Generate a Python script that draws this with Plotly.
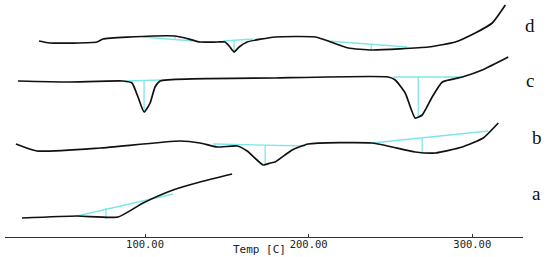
import plotly.graph_objects as go

# DSC curves (temperature in C, heat flow in arbitrary units, offset per sample)
temp_a = [24.8, 58.4, 83.5, 98.8, 117.1, 133.6, 153.2]
flow_a = [19, 21, 20, 34, 47, 55, 63]

temp_b = [21.1, 33.9, 72.5, 121.4, 133.6, 144.0, 156.3, 162.4, 172.2, 176.5, 179.5,
          189.9, 199.7, 238.8, 265.1, 277.4, 293.9, 306.7, 315.9]
flow_b = [93, 86, 89, 96, 94, 90, 91, 86, 72, 74, 75, 87, 93, 94, 85, 84, 90, 99, 114]

temp_c = [22.3, 52.3, 86.5, 92.0, 95.7, 99.4, 103.1, 106.1, 109.2, 179.5, 248.6,
          252.9, 259.0, 265.1, 269.4, 275.5, 281.7, 293.9, 306.1, 322.0]
flow_c = [156, 155, 156, 154, 140, 125, 134, 150, 156, 159, 160, 157, 144, 119,
          122, 140, 155, 160, 167, 180]

temp_d = [35.2, 41.9, 70.6, 74.3, 104.9, 118.3, 124.5, 133.6, 144.0, 148.9, 151.4,
          154.4, 157.5, 162.4, 179.5, 204.0, 211.9, 224.2, 238.8, 273.1, 289.6,
          301.8, 312.2, 320.2]
flow_d = [196, 194, 195, 198, 201, 201, 199, 195, 195, 195, 191, 185, 190, 195,
          200, 200, 196, 189, 187, 190, 195, 204, 214, 232]

# peak baselines: (t_start, y_start, t_end, y_end, t_peak, y_base_at_peak, y_peak)
baselines = [
    (58.4, 21, 117.1, 43, 76.1, 29, 18),
    (141.6, 93, 197.9, 91, 173.4, 92, 72),
    (238.8, 94, 309.8, 106, 269.4, 100, 84),
    (87.8, 156, 111.0, 157, 99.4, 156, 126),
    (251.7, 160, 293.9, 160, 267.0, 160, 119),
    (98.8, 200, 129.4, 196, 118.3, 198, 201),
    (147.7, 196, 166.1, 198, 154.4, 197, 185),
    (211.9, 196, 260.2, 190, 238.2, 193, 187),
]

labels = ['a', 'b', 'c', 'd']
label_y = [44, 100, 157, 212]
label_x = [1.027, 1.027, 1.0135, 1.0135]

fig = go.Figure()

for t0, y0, t1, y1, tp, yb, yp in baselines:
    fig.add_trace(go.Scatter(x=[t0, t1, None, tp, tp], y=[y0, y1, None, yb, yp],
                             mode='lines', line=dict(color='#7fe6e8', width=1.3),
                             hoverinfo='skip'))

for tx, fy in [(temp_a, flow_a), (temp_b, flow_b), (temp_c, flow_c), (temp_d, flow_d)]:
    fig.add_trace(go.Scatter(x=tx, y=fy, mode='lines',
                             line=dict(color='#111111', width=1.7, shape='spline', smoothing=0.5)))

for lab, ly, lx in zip(labels, label_y, label_x):
    fig.add_annotation(x=lx, y=ly, xref='paper', yref='y', text=lab, showarrow=False,
                       font=dict(family='Liberation Serif', size=19, color='#111111'),
                       xanchor='center', yanchor='middle')

fig.add_annotation(x=170, y=-0.052, xref='x', yref='paper', text='Temp [C]', showarrow=False,
                   font=dict(family='DejaVu Sans Mono', size=11, color='#222222'),
                   xanchor='center', yanchor='middle')

fig.update_layout(
    width=550, height=257,
    margin=dict(l=5, r=27, t=0, b=20),
    paper_bgcolor='white', plot_bgcolor='white',
    showlegend=False,
    xaxis=dict(range=[14.4, 331], showline=True, linecolor='#333333', linewidth=1,
               tickvals=[100, 200, 300], ticktext=['100.00', '200.00', '300.00'],
               ticks='inside', ticklen=3, tickcolor='#333333', ticklabelstandoff=-3,
               tickfont=dict(family='DejaVu Sans Mono', size=10.5, color='#222222'),
               showgrid=False, zeroline=False, automargin=False),
    yaxis=dict(range=[0, 237], visible=False, showgrid=False, zeroline=False),
)

fig.write_html("out.html", config={'displayModeBar': False},
               post_script="document.body.style.margin='0';")
